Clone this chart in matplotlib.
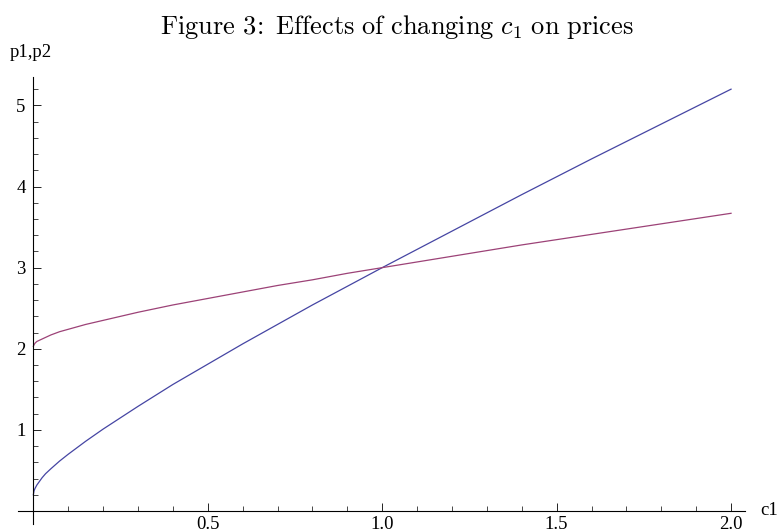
import matplotlib
matplotlib.use('Agg')
import matplotlib.pyplot as plt
from matplotlib.ticker import MultipleLocator, FixedLocator

plt.rcParams['mathtext.fontset'] = 'cm'
plt.rcParams['font.family'] = ['Liberation Serif', 'DejaVu Serif']

# values
c1 = [0.0, 0.002, 0.005, 0.01, 0.025, 0.035, 0.05, 0.075, 0.1, 0.15, 0.2,
      0.3, 0.4, 0.5, 0.6, 0.7, 0.8, 0.9, 1.0, 1.2, 1.4, 1.6, 1.8, 2.0]
p1 = [0.20, 0.25, 0.28, 0.32, 0.41, 0.46, 0.52, 0.615, 0.70, 0.86, 1.01,
      1.29, 1.56, 1.81, 2.06, 2.30, 2.54, 2.77, 3.00, 3.45, 3.90, 4.34, 4.77, 5.20]
p2 = [2.03, 2.05, 2.07, 2.09, 2.12, 2.14, 2.17, 2.21, 2.24, 2.30, 2.35,
      2.45, 2.54, 2.62, 2.70, 2.78, 2.85, 2.93, 3.00, 3.14, 3.28, 3.41, 3.54, 3.67]
xticks = [0.5, 1.0, 1.5, 2.0]
xticklabels = ['0.5', '1.0', '1.5', '2.0']
yticks = [1, 2, 3, 4, 5]

W, H = 779, 532
fig = plt.figure(figsize=(W / 100, H / 100), dpi=100)
ax = fig.add_axes([18 / W, 8 / H, 727 / W, 447 / H])

ax.plot(c1, p1, color='#4545a3', lw=0.9)
ax.plot(c1, p2, color='#9c4277', lw=0.9)

ax.set_xlim(-0.044, 2.04)
ax.set_ylim(-0.16, 5.35)

for s in ['top', 'right']:
    ax.spines[s].set_visible(False)
ax.spines['left'].set_position(('data', 0))
ax.spines['bottom'].set_position(('data', 0))
for s in ['left', 'bottom']:
    ax.spines[s].set_linewidth(0.8)

ax.xaxis.set_major_locator(FixedLocator(xticks))
ax.set_xticklabels(xticklabels)
ax.xaxis.set_minor_locator(MultipleLocator(0.1))
ax.yaxis.set_major_locator(FixedLocator(yticks))
ax.yaxis.set_minor_locator(MultipleLocator(0.2))
ax.tick_params(which='major', direction='in', length=6, width=0.6, labelsize=13.5)
ax.tick_params(axis='x', which='major', pad=3.5)
ax.tick_params(axis='y', which='major', pad=5.5)
ax.tick_params(which='minor', direction='in', length=3.5, width=0.5)

fig.text(760 / W, 1 - 515 / H, 'c1', fontsize=13.5, ha='left', va='baseline')
fig.text(10 / W, 1 - 57 / H, 'p1,p2', fontsize=13.5, ha='left', va='baseline')

fig.text(396.5 / W, 1 - 34 / H,
         r'$\mathrm{Figure\ 3\!:\ Effects\ of\ changing\ }c_1\mathrm{\ on\ prices}$',
         fontsize=19, ha='center', va='baseline')

fig.savefig('out.png', dpi=100)
